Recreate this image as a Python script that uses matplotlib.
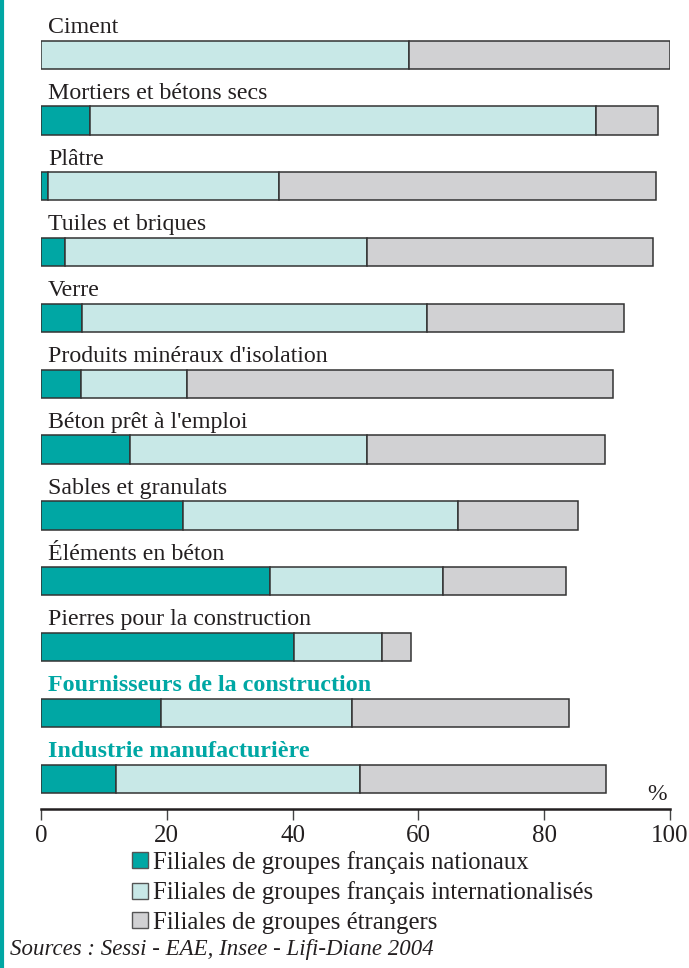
import matplotlib.pyplot as plt
from matplotlib.patches import Patch

plt.rcParams["font.family"] = ["Liberation Serif", "DejaVu Serif"]

# Données (% de l'emploi)
categories = [
    "Ciment",
    "Mortiers et bétons secs",
    "Plâtre",
    "Tuiles et briques",
    "Verre",
    "Produits minéraux d'isolation",
    "Béton prêt à l'emploi",
    "Sables et granulats",
    "Éléments en béton",
    "Pierres pour la construction",
    "Fournisseurs de la construction",
    "Industrie manufacturière",
]
nationaux = [0.0, 7.8, 1.1, 3.8, 6.5, 6.4, 14.1, 22.6, 36.4, 40.2, 19.0, 12.0]
internationalises = [58.5, 80.4, 36.7, 48.0, 54.9, 16.8, 37.7, 43.7, 27.5, 14.0, 30.4, 38.7]
etrangers = [41.5, 9.9, 60.0, 45.5, 31.3, 67.7, 37.9, 19.1, 19.6, 4.6, 34.5, 39.1]
agregats = ["Fournisseurs de la construction", "Industrie manufacturière"]

legend_labels = [
    "Filiales de groupes français nationaux",
    "Filiales de groupes français internationalisés",
    "Filiales de groupes étrangers",
]
source = "Sources : Sessi - EAE, Insee - Lifi-Diane 2004"

TEAL = "#00a7a4"
LIGHT = "#c8e8e7"
GREY = "#d1d1d3"
EDGE = "#333333"
TXT = "#231f20"
colors = [TEAL, LIGHT, GREY]

fig = plt.figure(figsize=(6.89, 9.68), dpi=100)
ax = fig.add_axes([41 / 689, 159 / 968, 629 / 689, 807 / 968])

y = list(range(len(categories)))
left = [0.0] * len(categories)
for serie, col in zip([nationaux, internationalises, etrangers], colors):
    ax.barh(y, serie, left=left, height=0.43, color=col,
            edgecolor=EDGE, linewidth=1.1)
    left = [a + b for a, b in zip(left, serie)]

for i, cat in enumerate(categories):
    if cat in agregats:
        ax.text(1.1, i - 0.33, cat, fontsize=17.3, fontweight="bold",
                color=TEAL, va="baseline", ha="left")
    else:
        ax.text(1.1, i - 0.33, cat, fontsize=17.2, color=TXT,
                va="baseline", ha="left")

ax.set_xlim(0, 100)
ax.set_ylim(11.46, -0.8)
ax.set_xticks(range(0, 101, 20))
ax.tick_params(axis="x", direction="out", length=8, width=1,
               labelsize=18, pad=3.6, colors="#444444", labelcolor=TXT)
ax.set_yticks([])
for s in ["top", "right", "left"]:
    ax.spines[s].set_visible(False)
ax.spines["bottom"].set_linewidth(1.8)
ax.spines["bottom"].set_color(TXT)
ax.text(98, 11.33, "%", fontsize=17, ha="center", va="baseline", color=TXT)

handles = [Patch(facecolor=c, edgecolor="#555555", linewidth=1) for c in colors]
fig.legend(handles, legend_labels, loc="upper left",
           bbox_to_anchor=(132 / 689, 1 - 851 / 968), frameon=False,
           fontsize=17.8, handlelength=0.63, handleheight=0.63,
           handletextpad=0.2, labelspacing=0.3, borderpad=0,
           borderaxespad=0, labelcolor=TXT)

fig.text(10 / 689, 1 - 949 / 968, source, fontsize=16.5, style="italic",
         va="center", ha="left", color=TXT)

# liseré vertical à gauche
fig.add_artist(plt.Line2D([0.003, 0.003], [0, 1], color=TEAL, linewidth=3,
                          transform=fig.transFigure))

fig.savefig("out.png", dpi=100)
